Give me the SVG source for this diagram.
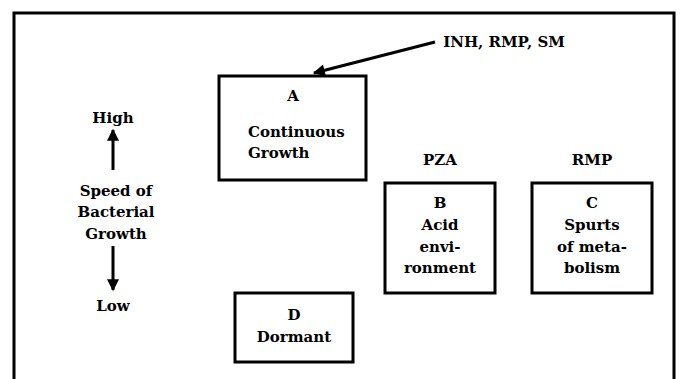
<svg xmlns="http://www.w3.org/2000/svg" width="681" height="379" viewBox="0 0 681 379">
<defs>
<style>
text{font-family:"DejaVu Serif","Liberation Serif",serif;font-weight:bold;font-size:15px;fill:#000}
.c{text-anchor:middle}
.box{fill:none;stroke:#000;stroke-width:3}
.ln{stroke:#000;stroke-width:3;fill:none}
</style>
<marker id="ah" viewBox="0 0 10 10" refX="9" refY="5" markerWidth="4.5" markerHeight="4" orient="auto" markerUnits="strokeWidth">
<path d="M0,0 L10,5 L0,10 z" fill="#000"/>
</marker>
</defs>
<rect width="681" height="379" fill="#fff"/>
<path d="M14,381 L14,13 L674,13 L674,381" class="ln" stroke-width="3.5"/>
<g id="connectors">
<line x1="435" y1="42" x2="314" y2="73" class="ln" marker-end="url(#ah)"/>
<line x1="113" y1="170" x2="113" y2="130" class="ln" marker-end="url(#ah)"/>
<line x1="113" y1="246" x2="113" y2="290" class="ln" marker-end="url(#ah)"/>
</g>
<g id="drugs-a"><text x="504" y="47" class="c">INH, RMP, SM</text></g>
<g id="node-a">
<rect x="219" y="76" width="147" height="104" class="box"/>
<text x="293" y="101" class="c">A</text>
<text x="248" y="137">Continuous</text>
<text x="248" y="158">Growth</text>
</g>
<g id="axis">
<text x="113" y="123" class="c">High</text>
<text x="116" y="196" class="c">Speed of</text>
<text x="116" y="217" class="c">Bacterial</text>
<text x="116" y="239" class="c">Growth</text>
<text x="113" y="311" class="c">Low</text>
</g>
<g id="label-pza"><text x="440" y="165" class="c">PZA</text></g>
<g id="label-rmp"><text x="592" y="165" class="c">RMP</text></g>
<g id="node-b">
<rect x="385" y="183" width="110" height="110" class="box"/>
<text x="440" y="208" class="c">B</text>
<text x="440" y="230" class="c">Acid</text>
<text x="440" y="252" class="c">envi-</text>
<text x="440" y="273" class="c">ronment</text>
</g>
<g id="node-c">
<rect x="532" y="183" width="120" height="110" class="box"/>
<text x="592" y="208" class="c">C</text>
<text x="592" y="230" class="c">Spurts</text>
<text x="592" y="252" class="c">of meta-</text>
<text x="592" y="273" class="c">bolism</text>
</g>
<g id="node-d">
<rect x="235" y="293" width="118" height="69" class="box"/>
<text x="294" y="320" class="c">D</text>
<text x="294" y="342" class="c">Dormant</text>
</g>
</svg>
